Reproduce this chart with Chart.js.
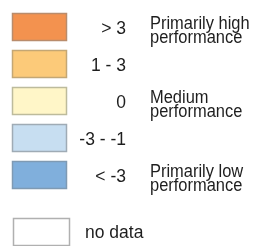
<!DOCTYPE html>
<html>
<head>
<meta charset="utf-8">
<script src="https://cdn.jsdelivr.net/npm/chart.js@4"></script>
<style>
  html, body { margin: 0; padding: 0; background: #fff; }
  #wrap { width: 257px; height: 246px; }
</style>
</head>
<body>
<div id="wrap"><canvas id="myChart" width="257" height="246"></canvas></div>
<script>
// legend classes
var ranges = ['> 3', '1 - 3', '0', '-3 - -1', '< -3', 'no data'];
var fills = ['#f3924f', '#fcca79', '#fff6c8', '#c7def1', '#80afdc', '#ffffff'];
var borders = ['#b98c6c', '#c4a774', '#bdbb9c', '#9fabb5', '#7f9ab3', '#b0b0b0'];
var notes = [['Primarily high', 'performance'], [], ['Medium', 'performance'], [], ['Primarily low', 'performance'], []];

var FONT = '17.5px "Liberation Sans", Arial, sans-serif';

// draws the class legend from the datasets
var classLegend = {
  id: 'classLegend',
  afterDraw: function(chart) {
    var c = chart.ctx;
    c.save();
    c.font = FONT;
    chart.data.datasets.forEach(function(ds, i) {
      var noData = (i == ranges.length - 1);
      var top = noData ? 218 : 13 + i * 37;
      var x = noData ? 13.5 : 12.5;
      var w = noData ? 56 : 54;
      var mid = top + 14;

      c.fillStyle = ds.backgroundColor;
      c.fillRect(x, top + 0.5, w, 27);
      c.strokeStyle = ds.borderColor;
      c.lineWidth = 1.5;
      c.strokeRect(x, top + 0.5, w, 27);

      c.fillStyle = '#1e1e1e';
      c.textBaseline = 'alphabetic';
      if (noData) {
        c.textAlign = 'left';
        c.fillText(ds.label, 85, mid + 5.5);
      } else {
        c.textAlign = 'right';
        c.fillText(ds.label, 126, mid + 7);
      }
      // descriptions are a bit narrower
      c.textAlign = 'left';
      notes[i].forEach(function(line, k) {
        c.save();
        c.translate(150, mid + 1.5 + k * 14.5);
        c.scale(0.94, 1);
        c.fillText(line, 0, 0);
        c.restore();
      });
    });
    c.restore();
  }
};

var ctx = document.getElementById('myChart').getContext('2d');
var myChart = new Chart(ctx, {
    type: 'bar',
    data: {
        labels: [],
        datasets: ranges.map(function(r, i) {
          return {
            label: r,
            data: [],
            backgroundColor: fills[i],
            borderColor: borders[i],
            borderWidth: 1
          };
        })
    },
    options: {
      responsive: false,
      animation: false,
      events: [],
      scales: {
        x: { display: false },
        y: { display: false }
      },
      plugins: {
        legend: { display: false },
        tooltip: { enabled: false }
      }
    },
    plugins: [classLegend]
});
</script>
</body>
</html>
